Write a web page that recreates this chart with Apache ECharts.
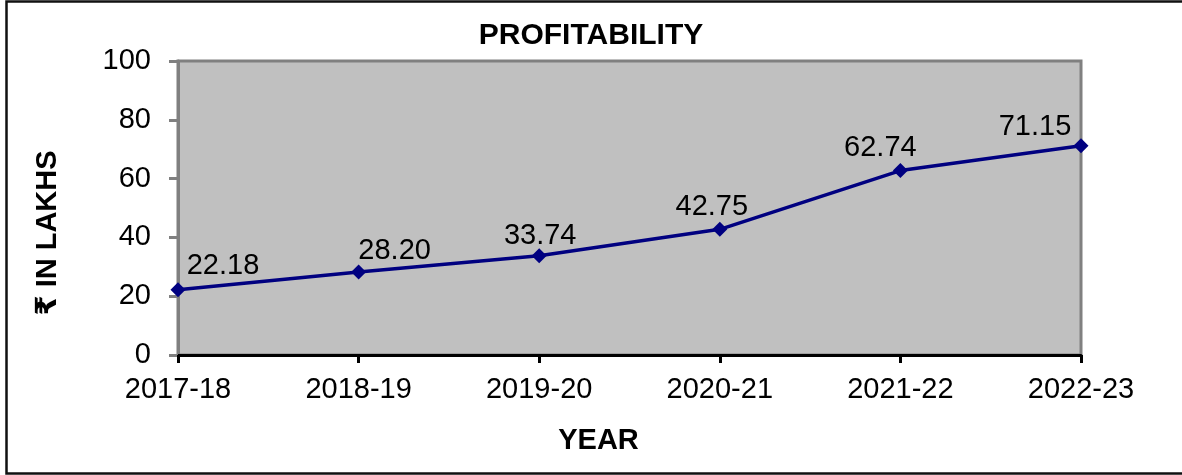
<!DOCTYPE html>
<html>
<head>
<meta charset="utf-8">
<script src="https://cdn.jsdelivr.net/npm/echarts@6/dist/echarts.min.js"></script>
<style>
  html, body { margin: 0; padding: 0; background: #fff; }
  #chart { width: 1182px; height: 475px; }
</style>
</head>
<body>
<div id="chart"></div>
<script>
// data
var years = ['2017-18', '2018-19', '2019-20', '2020-21', '2021-22', '2022-23'];
var profit = [22.18, 28.20, 33.74, 42.75, 62.74, 71.15];
var yTicks = [0, 20, 40, 60, 80, 100];

var FONT = "'Liberation Sans', 'DejaVu Sans', Arial, sans-serif";

// label nudges (px) so the value sits where Excel put it
var labelNudge = [[45, -24], [36, -21], [1, -20], [-8, -22], [-20, -23], [-46, -19]];

var seriesData = profit.map(function (v, i) {
    return {
        value: v,
        label: { offset: labelNudge[i] }
    };
});

var chart = echarts.init(document.getElementById('chart'));

var option = {
    animation: false,
    backgroundColor: '#fff',
    title: {
        text: 'PROFITABILITY',
        left: 'center',
        top: 16,
        textStyle: { fontFamily: FONT, fontSize: 30, fontWeight: 'bold', color: '#000' }
    },
    grid: {
        left: 178, right: 101, top: 61, bottom: 120,
        show: true,
        backgroundColor: '#c0c0c0',
        borderColor: '#808080',
        borderWidth: 3
    },
    xAxis: {
        type: 'category',
        data: years,
        boundaryGap: false,
        name: 'YEAR',
        nameLocation: 'middle',
        nameGap: 71,
        nameTextStyle: { fontFamily: FONT, fontSize: 29, fontWeight: 'bold', color: '#000', padding: [0, 62, 0, 0] },
        axisLine: { lineStyle: { color: '#000', width: 3 } },
        axisTick: { alignWithLabel: true, length: 8, lineStyle: { color: '#000', width: 3 } },
        axisLabel: { margin: 20, fontFamily: FONT, fontSize: 29, color: '#000' },
        splitLine: { show: false }
    },
    yAxis: {
        type: 'value',
        min: yTicks[0],
        max: yTicks[yTicks.length - 1],
        interval: yTicks[1] - yTicks[0],
        name: '₹ IN LAKHS',
        nameLocation: 'middle',
        nameGap: 116,
        nameTextStyle: { fontFamily: FONT, fontSize: 29, fontWeight: 'bold', color: '#000', padding: [0, 50, 0, 0] },
        axisLine: { show: true, lineStyle: { color: '#808080', width: 3 } },
        axisTick: { show: true, length: 9, lineStyle: { color: '#808080', width: 3 } },
        axisLabel: { margin: 27, fontFamily: FONT, fontSize: 29, color: '#000' },
        splitLine: { show: false }
    },
    series: [{
        type: 'line',
        data: seriesData,
        symbol: 'diamond',
        symbolSize: 15,
        itemStyle: { color: '#000080' },
        lineStyle: { color: '#000080', width: 3.5 },
        label: {
            show: true,
            position: 'inside',
            fontFamily: FONT,
            fontSize: 29,
            color: '#000',
            formatter: function (p) { return p.value.toFixed(2); }
        }
    }],
    graphic: [{
        type: 'rect',
        silent: true,
        shape: { x: 6.5, y: 1.5, width: 1250, height: 472 },
        style: { fill: 'none', stroke: '#111', lineWidth: 2.5 }
    }]
};

chart.setOption(option);
</script>
</body>
</html>
